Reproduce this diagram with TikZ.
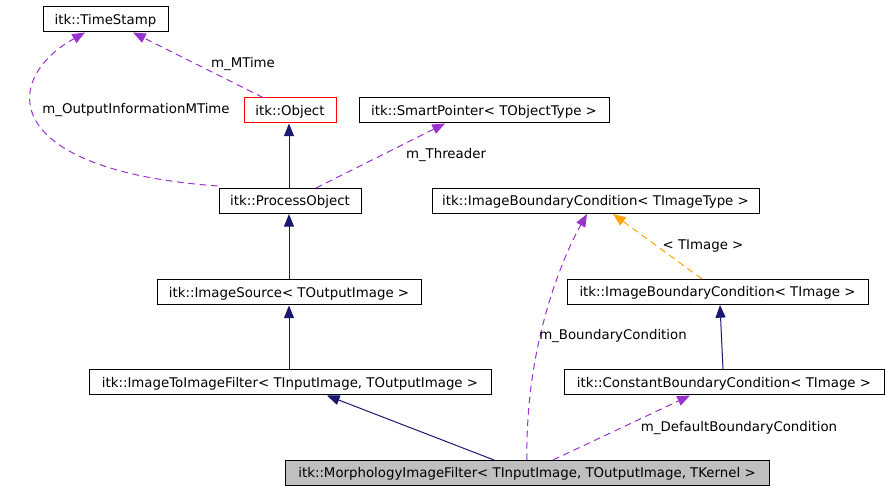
\documentclass[tikz,border=0pt]{standalone}
\usepackage{fontspec}
\setmainfont{DejaVu Sans}
\usetikzlibrary{arrows.meta,calc}
\definecolor{navyc}{RGB}{25,25,112}
\definecolor{orch}{RGB}{154,50,205}
\definecolor{orng}{RGB}{255,165,0}
\definecolor{grayfill}{RGB}{191,191,191}
\begin{document}
\begin{tikzpicture}[x=0.75pt,y=-0.75pt,
  box/.style={draw=black, line width=0.75pt, minimum height=18.75pt, inner sep=0pt,
    font=\fontsize{10}{12}\selectfont, text height=7.3pt, text depth=0pt, minimum width=#1*0.75pt},
  lbl/.style={inner sep=0pt, font=\fontsize{10}{12}\selectfont, text height=7.3pt, text depth=0pt},
  tip/.style={-{Triangle[length=9.5pt,width=7.5pt]}},
  inh/.style={draw=navyc, line width=0.75pt, tip},
  use/.style={draw=orch, line width=0.75pt, dash pattern=on 5pt off 3.5pt, tip},
  tmpl/.style={draw=orng, line width=0.75pt, dash pattern=on 5pt off 3.5pt, tip}]
\useasboundingbox (0,0) rectangle (889,491);
\fill[white] (0,0) rectangle (889,491);

\node[box=125] (ts) at (105.5,19.5) {itk::TimeStamp};
\node[box=92, draw=red] (obj) at (290,110.5) {itk::Object};
\node[box=250] (sp) at (484,110.5) {itk::SmartPointer< TObjectType >};
\node[box=142] (po) at (290,201) {itk::ProcessObject};
\node[box=327] (ibct) at (595.5,201) {itk::ImageBoundaryCondition< TImageType >};
\node[box=264] (is) at (289,292.5) {itk::ImageSource< TOutputImage >};
\node[box=301] (ibc) at (717.5,292) {itk::ImageBoundaryCondition< TImage >};
\node[box=402] (itf) at (290,382.5) {itk::ImageToImageFilter< TInputImage, TOutputImage >};
\node[box=320] (cbc) at (724,382.5) {itk::ConstantBoundaryCondition< TImage >};
\node[box=484, fill=grayfill] (mf) at (527,473) {itk::MorphologyImageFilter< TInputImage, TOutputImage, TKernel >};

% inheritance
\draw[inh] ($(po.north)+(-1,0)$) -- ($(obj.south)+(-1,0)$);
\draw[inh] (is.north) -- ($(po.south)+(-1,0)$);
\draw[inh] (itf.north -| is.north) -- (is.south);
\draw[inh] ($(mf.north)+(-33,0)$) -- ($(itf.south)+(37,0)$);
\draw[inh] ($(cbc.north)+(-1,0)$) -- ($(ibc.south)+(2.5,0)$);

% usage
\draw[use] ($(obj.north)+(-27,0)$) -- ($(ts.south)+(27.5,0)$);
\node[lbl] (lmt) at (243,63) {m\_MTime};
\draw[use] ($(po.north west)+(-1,-2)$) .. controls (0,170) and (0,80) .. ($(ts.south)+(-20.5,0)$);
\node[lbl] (loim) at (136,109) {m\_OutputInformationMTime};
\draw[use] ($(po.north)+(26,0)$) -- ($(sp.south)+(-39,0)$);
\node[lbl] (lthr) at (446,154) {m\_Threader};
\draw[use] (mf.north) .. controls (525,350) and (560,262) .. ($(ibct.south)+(-8.5,0)$);
\node[lbl] (lbc) at (613,335) {m\_BoundaryCondition};
\draw[use] ($(mf.north)+(26,0)$) -- ($(cbc.south)+(-34,0)$);
\node[lbl] (ldbc) at (739,427) {m\_DefaultBoundaryCondition};

% template
\draw[tmpl] ($(ibc.north)+(-15.5,0)$) -- ($(ibct.south)+(17.5,0)$);
\node[lbl] (ltim) at (703,245) {< TImage >};
\end{tikzpicture}
\end{document}
